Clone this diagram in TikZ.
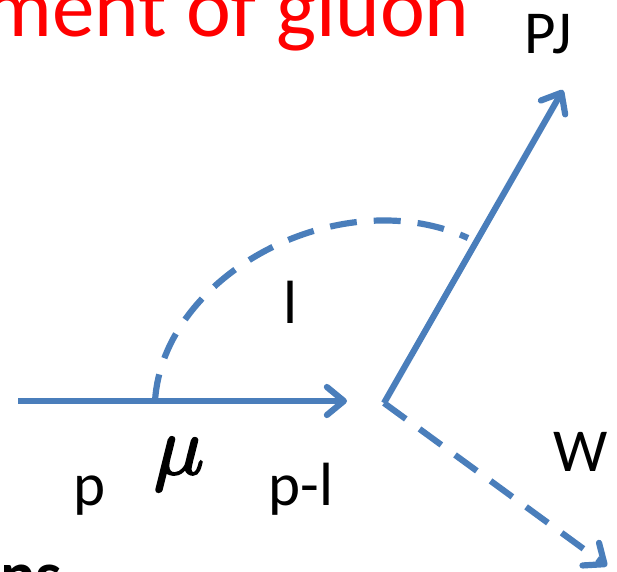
\documentclass[tikz,border=0pt]{standalone}
\usepackage{fontspec}
\setmainfont{Carlito}
\usetikzlibrary{arrows.meta}
\definecolor{lineblue}{HTML}{4A7EBB}
\newcommand{\heavymu}{\special{pdf:code q 2 Tr 0.22 w}$\mu$\special{pdf:code Q}}
\tikzset{
  x=1pt,y=-1pt,
  wire/.style={draw=lineblue,line width=6.2pt},
  tipped/.style={wire,-{Straight Barb[length=17pt,width=28pt,line width=6.2pt,round]}},
  dash style/.style={dash pattern=on 27pt off 17pt},
  lab/.style={inner sep=0pt,text=black,anchor=base,font=\fontsize{61}{65}\selectfont},
}
\begin{document}
\begin{tikzpicture}
\useasboundingbox (0,0) rectangle (617,571);
\clip (0,0) rectangle (617,571);
\node[inner sep=0pt,anchor=base east,text=red,font=\fontsize{85}{90}\selectfont] (title) at (470,36) {ment of gluon};
\node[lab] (pj) at (548,53) {PJ};
\node[lab] (l) at (290,323) {l};
\node[lab] (p) at (90,505) {p};
\node[lab] (pl) at (301,505) {p-l};
\node[lab] (w) at (581,471) {W};
\node[lab,anchor=base west,font=\fontsize{66}{70}\selectfont\bfseries] (ns) at (0,597) {ns};
\node[inner sep=0pt,anchor=base,text=black,scale=8.4] (mu) at (179,474) {\heavymu};
\coordinate (a) at (18,401);
\coordinate (b) at (347,401);
\coordinate (v) at (384,403);
\coordinate (c) at (563,90);
\coordinate (d) at (607,566);
\coordinate (s) at (155,401);
\coordinate (e) at (468,238);
\draw[tipped] (a) -- (b);
\draw[tipped] (v) -- (c);
\draw[tipped,dash style] (v) -- (d);
\draw[wire,dash style] (s) .. controls (163,274) and (340,180) .. (e);
\end{tikzpicture}
\end{document}
